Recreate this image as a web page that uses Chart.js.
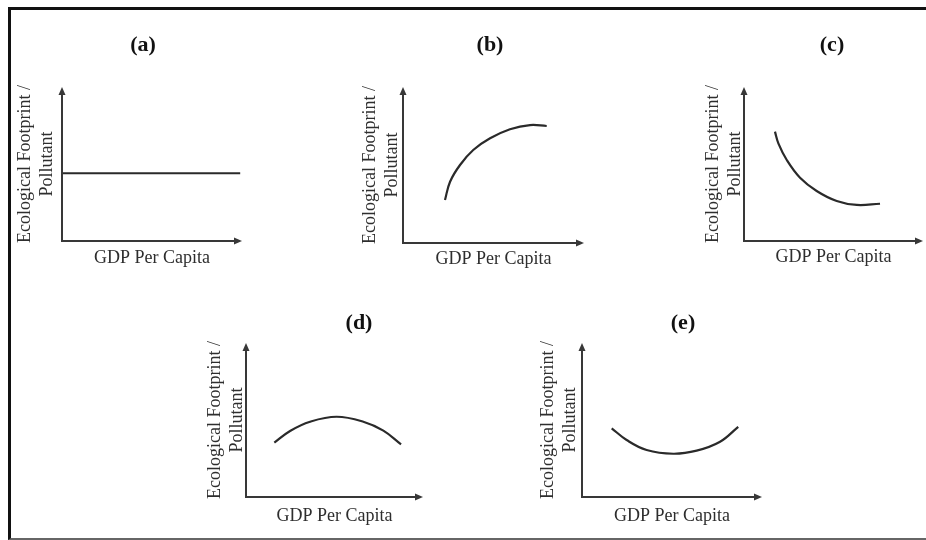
<!DOCTYPE html>
<html>
<head>
<meta charset="utf-8">
<title>EKC shapes</title>
<script src="https://cdn.jsdelivr.net/npm/chart.js@4.4.1/dist/chart.umd.min.js"></script>
<style>
  html, body { margin: 0; padding: 0; background: #fff; }
  body { position: relative; width: 926px; height: 540px; overflow: hidden; }
  .frame {
    position: absolute; left: 8px; top: 7px; width: 1000px; height: 528px;
    border-left: 3px solid #111; border-top: 3px solid #111; border-bottom: 2px solid #666;
  }
  canvas { position: absolute; }
</style>
</head>
<body>
<div class="frame"></div>
<canvas id="panel-a"></canvas>
<canvas id="panel-b"></canvas>
<canvas id="panel-c"></canvas>
<canvas id="panel-d"></canvas>
<canvas id="panel-e"></canvas>
<script>
// Panel and axis labels
const panelTitles = ['(a)', '(b)', '(c)', '(d)', '(e)'];
const xTitle = 'GDP Per Capita';
const yTitle = ['Ecological Footprint /', 'Pollutant'];

// Curves, both axes run 0..10
const aX = [0, 9.9];
const aY = [4.4, 4.4];
const bX = [2.32, 2.60, 3.15, 3.88, 4.81, 5.91, 7.02, 7.94];
const bY = [2.76, 3.93, 5.00, 5.96, 6.71, 7.29, 7.56, 7.50];
const cX = [1.73, 1.92, 2.39, 3.13, 4.06, 5.18, 6.30, 7.60];
const cY = [7.10, 6.34, 5.26, 4.11, 3.25, 2.60, 2.34, 2.42];
const dX = [1.60, 2.49, 3.62, 5.12, 6.63, 7.76, 8.76];
const dY = [3.53, 4.29, 4.89, 5.21, 4.89, 4.31, 3.42];
const eX = [1.65, 2.48, 3.59, 5.07, 6.37, 7.67, 8.68];
const eY = [4.46, 3.70, 3.05, 2.81, 3.01, 3.59, 4.56];

// Where each panel sits on the page (px): label centres and axis box
const layouts = [
  { yTitleX: 25,  titleX: 143, titleY: 45,  L: 62,  R: 242, T: 87,  B: 241, xTitleY: 259 },
  { yTitleX: 370, titleX: 490, titleY: 45,  L: 403, R: 584, T: 87,  B: 243, xTitleY: 260 },
  { yTitleX: 713, titleX: 832, titleY: 45,  L: 744, R: 923, T: 87,  B: 241, xTitleY: 258 },
  { yTitleX: 215, titleX: 359, titleY: 323, L: 246, R: 423, T: 343, B: 497, xTitleY: 517 },
  { yTitleX: 548, titleX: 683, titleY: 323, L: 582, R: 762, T: 343, B: 497, xTitleY: 517 }
];

const SERIF = "'Liberation Serif', 'Times New Roman', serif";
const LABEL_SIZE = 18, LABEL_LH = 1.25;
const TITLE_SIZE = 22, TITLE_LH = 1.2;

// Axes with arrow heads, drawn along the chart area edges
const arrowAxes = {
  id: 'arrowAxes',
  afterDatasetsDraw(chart) {
    const { ctx, chartArea: { left, right, top, bottom } } = chart;
    ctx.save();
    ctx.strokeStyle = '#383838';
    ctx.fillStyle = '#383838';
    ctx.lineWidth = 2;
    ctx.beginPath();
    ctx.moveTo(left, top + 6);
    ctx.lineTo(left, bottom);
    ctx.lineTo(right - 6, bottom);
    ctx.stroke();

    ctx.beginPath();
    ctx.moveTo(left, top);
    ctx.lineTo(left - 3.5, top + 8);
    ctx.lineTo(left + 3.5, top + 8);
    ctx.closePath();
    ctx.fill();

    ctx.beginPath();
    ctx.moveTo(right, bottom);
    ctx.lineTo(right - 8, bottom - 3.5);
    ctx.lineTo(right - 8, bottom + 3.5);
    ctx.closePath();
    ctx.fill();
    ctx.restore();
  }
};

function makePanel(canvasId, title, xs, ys, g) {
  const yHalf = LABEL_SIZE * LABEL_LH / 2;
  const titleH = TITLE_SIZE * TITLE_LH;
  const left = Math.round(g.yTitleX - yHalf);
  const top = Math.round(g.titleY - titleH / 2);
  const width = Math.round(2 * (g.titleX - left));
  const height = Math.round(g.xTitleY + yHalf - top);

  const yAxisW = g.L - left;
  const rightSpace = left + width - g.R;
  const xAxisH = top + height - g.B;
  const titleGap = g.T - top - titleH;

  const canvas = document.getElementById(canvasId);
  canvas.width = width;
  canvas.height = height;
  canvas.style.left = left + 'px';
  canvas.style.top = top + 'px';

  const labelFont = { family: SERIF, size: LABEL_SIZE, lineHeight: LABEL_LH };

  return new Chart(canvas, {
    type: 'line',
    data: {
      datasets: [{
        data: xs.map((x, i) => ({ x: x, y: ys[i] })),
        borderColor: '#2a2a2a',
        borderWidth: 2.2,
        pointRadius: 0,
        tension: 0.4,
        fill: false
      }]
    },
    options: {
      responsive: false,
      animation: false,
      events: [],
      layout: { padding: 0 },
      scales: {
        x: {
          type: 'linear', min: 0, max: 10,
          grid: { display: false },
          border: { display: false },
          ticks: { display: false },
          title: { display: true, text: xTitle, font: labelFont, color: '#2e2e2e', padding: { top: 0, bottom: 0 } },
          afterFit(scale) { scale.height = xAxisH; }
        },
        y: {
          type: 'linear', min: 0, max: 10,
          grid: { display: false },
          border: { display: false },
          ticks: { display: false },
          title: { display: true, text: yTitle, font: labelFont, color: '#2e2e2e', padding: { top: 0, bottom: 0 } },
          afterFit(scale) { scale.width = yAxisW; }
        },
        // empty right axis, only reserves room so the panel title sits where it does in the figure
        yRight: {
          type: 'linear', position: 'right', display: true,
          grid: { display: false },
          border: { display: false },
          ticks: { display: false },
          afterFit(scale) { scale.width = rightSpace; }
        }
      },
      plugins: {
        legend: { display: false },
        tooltip: { enabled: false },
        title: {
          display: true,
          text: title,
          fullSize: true,
          color: '#111',
          font: { family: SERIF, size: TITLE_SIZE, weight: 'bold', lineHeight: TITLE_LH },
          padding: { top: 0, bottom: titleGap }
        }
      }
    },
    plugins: [arrowAxes]
  });
}

makePanel('panel-a', panelTitles[0], aX, aY, layouts[0]);
makePanel('panel-b', panelTitles[1], bX, bY, layouts[1]);
makePanel('panel-c', panelTitles[2], cX, cY, layouts[2]);
makePanel('panel-d', panelTitles[3], dX, dY, layouts[3]);
makePanel('panel-e', panelTitles[4], eX, eY, layouts[4]);
</script>
</body>
</html>
